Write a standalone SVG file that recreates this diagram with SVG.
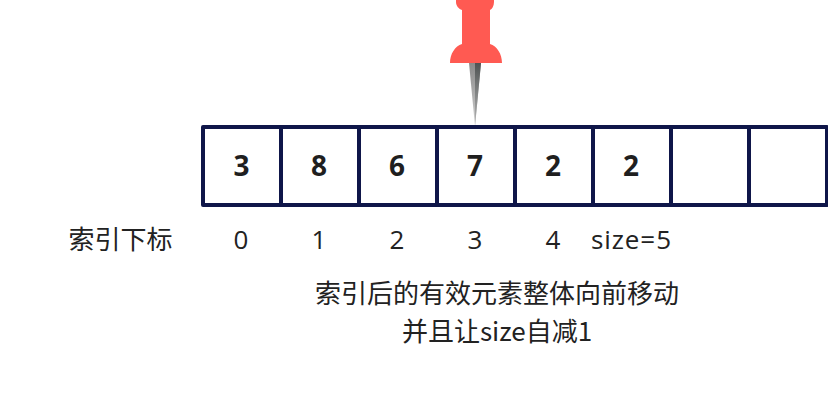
<svg xmlns="http://www.w3.org/2000/svg" width="828" height="418" viewBox="0 0 828 418">
<style>
.cell{fill:#fff;stroke:#0f1649;stroke-width:4;stroke-linejoin:round}
.v{font:700 28px "Open Sans","Noto Sans CJK SC",sans-serif;fill:#1f1f1f;text-anchor:middle}
.i{font:400 26px "Open Sans","Noto Sans CJK SC",sans-serif;fill:#222;text-anchor:middle}
.c{font:400 26px "Noto Sans CJK SC","Open Sans",sans-serif;fill:#222;text-anchor:middle}
</style>
<defs><linearGradient id="g" x1="0" y1="0" x2="0" y2="1"><stop offset="0" stop-color="#8a8a8a"/><stop offset="1" stop-color="#d0d0d0"/></linearGradient>
<linearGradient id="d" x1="0" y1="0" x2="0" y2="1"><stop offset="0" stop-color="#4f5353"/><stop offset="1" stop-color="#b8b8b8"/></linearGradient></defs>
<g id="pin">
<path d="M469 63L481 63L475 126Z" fill="url(#g)"/>
<path d="M475 63L481 63L475 126Z" fill="url(#d)"/>
<path d="M456 0L456 2C456 6 459 9 462 10L462 44C455 46 450 54 450 63L502 63C502 54 497 46 490 44L490 10C492 9 494 6 494 2L494 0Z" fill="#ff5a52"/>
</g>
<g id="array">
<rect class="cell" x="203" y="127" width="78" height="78"/>
<rect class="cell" x="281" y="127" width="78" height="78"/>
<rect class="cell" x="359" y="127" width="78" height="78"/>
<rect class="cell" x="437" y="127" width="78" height="78"/>
<rect class="cell" x="515" y="127" width="78" height="78"/>
<rect class="cell" x="593" y="127" width="78" height="78"/>
<rect class="cell" x="671" y="127" width="78" height="78"/>
<rect class="cell" x="749" y="127" width="78" height="78"/>
<text class="v" x="241.500" y="176">3</text>
<text class="v" x="319" y="176">8</text>
<text class="v" x="397" y="176">6</text>
<text class="v" x="475" y="176">7</text>
<text class="v" x="553" y="176">2</text>
<text class="v" x="631" y="176">2</text>
</g>
<g id="labels">
<text class="c" x="120.500" y="249">索引下标</text>
<text class="i" x="241" y="249">0</text>
<text class="i" x="319" y="249">1</text>
<text class="i" x="397" y="249">2</text>
<text class="i" x="475" y="249">3</text>
<text class="i" x="553" y="249">4</text>
<text class="i" x="631" y="249" textLength="80">size=5</text>
<text class="c" x="497" y="303">索引后的有效元素整体向前移动</text>
<text class="c" x="497" y="341">并且让size自减1</text>
</g>
</svg>
